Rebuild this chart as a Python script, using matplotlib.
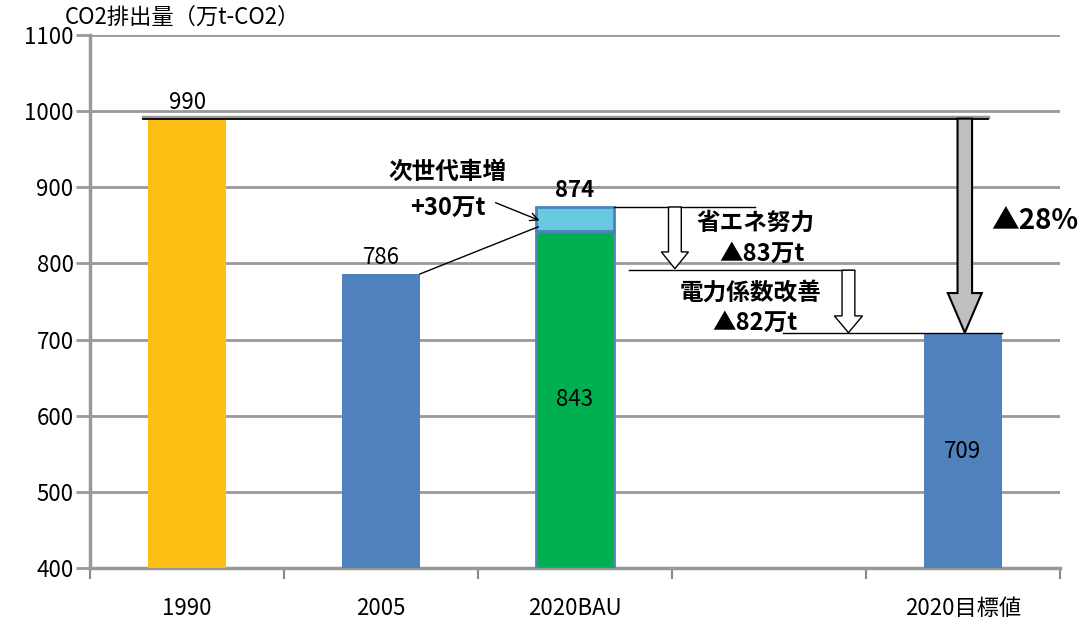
import matplotlib.pyplot as plt
from matplotlib.patches import FancyArrow

plt.rcParams['font.family'] = ['Noto Sans CJK JP', 'DejaVu Sans']

categories = ['1990', '2005', '2020BAU', '', '2020目標値']
base_values = [990, 786, 843, None, 709]
bau_increase = 31          # 843 -> 874
bau_total = 874
saving_effort = 83         # 省エネ努力
power_factor = 82          # 電力係数改善
bar_colors = ['#FDBF14', '#4F81BD', '#00B050', None, '#4F81BD']

fig = plt.figure(figsize=(10.87, 6.28), dpi=100)
ax = fig.add_axes([0.083, 0.0955, 0.892, 0.849])

x = list(range(len(categories)))
w = 0.4
for i, (v, c) in enumerate(zip(base_values, bar_colors)):
    if v is None:
        continue
    if i == 2:
        ax.bar(i, v - 400, w, bottom=400, color=c, edgecolor='#4F81BD', linewidth=2, zorder=3)
        ax.bar(i, bau_increase, w, bottom=v, color='#66C9DD', edgecolor='#4F81BD', linewidth=2, zorder=3)
    else:
        ax.bar(i, v - 400, w, bottom=400, color=c, zorder=3)

ax.set_xlim(-0.5, 4.5)
ax.set_ylim(400, 1100)
ax.set_yticks(range(400, 1101, 100))
ax.yaxis.grid(True, color='#999999', linewidth=2)
ax.set_axisbelow(True)
ax.tick_params(axis='y', length=10, width=2, color='#999999', labelsize=16, pad=2)

ax.set_xticks(x)
ax.set_xticklabels(categories, fontsize=16)
ax.tick_params(axis='x', which='major', length=0, pad=21)
ax.set_xticks([i - 0.5 for i in range(len(categories) + 1)], minor=True)
ax.tick_params(axis='x', which='minor', length=8, width=1.5, color='#888888', direction='out')

for s in ['top', 'right']:
    ax.spines[s].set_visible(False)
for s in ['left', 'bottom']:
    ax.spines[s].set_color('#999999')
    ax.spines[s].set_linewidth(2.5)

ax.text(-0.026, 1.032, 'CO2排出量（万t-CO2）', transform=ax.transAxes, fontsize=16,
        ha='left', va='center')

# value labels
ax.text(0, base_values[0] + 6, '990', ha='center', va='bottom', fontsize=16)
ax.text(1, base_values[1] + 6, '786', ha='center', va='bottom', fontsize=16)
ax.text(2, bau_total + 6, '874', ha='center', va='bottom', fontsize=16, fontweight='bold')
ax.text(2, 621, '843', ha='center', va='center', fontsize=16)
ax.text(4, 553, '709', ha='center', va='center', fontsize=16)

# reference lines
ax.plot([-0.23, 4.13], [base_values[0] + 1.5, base_values[0] + 1.5], color='#999999', lw=2.5, zorder=4)
ax.plot([-0.23, 4.13], [base_values[0], base_values[0]], color='black', lw=1.3, zorder=5)
ax.plot([2.2, 2.93], [bau_total, bau_total], color='black', lw=1, zorder=4)
mid = bau_total - saving_effort
ax.plot([2.28, 3.44], [mid, mid], color='black', lw=1, zorder=4)
ax.plot([3.07, 4.2], [base_values[4], base_values[4]], color='black', lw=1, zorder=4)

# hollow arrows
ax.add_patch(FancyArrow(2.515, bau_total, 0, -(saving_effort - 2), width=0.066, head_width=0.14,
                        head_length=22, length_includes_head=True, fc='white', ec='black', lw=1, zorder=6))
ax.add_patch(FancyArrow(3.41, mid, 0, -(mid - base_values[4]), width=0.066, head_width=0.145,
                        head_length=22, length_includes_head=True, fc='white', ec='black', lw=1, zorder=6))
ax.add_patch(FancyArrow(4.01, base_values[0], 0, -(base_values[0] - base_values[4]), width=0.075,
                        head_width=0.175, head_length=52, length_includes_head=True,
                        fc='#BFBFBF', ec='black', lw=1.5, zorder=6))

# connector line and arrow for 次世代車増
ax.plot([1.2, 1.81], [base_values[1], 848], color='black', lw=1, zorder=5)
ax.annotate('', xy=(1.83, 855), xytext=(1.577, 881),
            arrowprops=dict(arrowstyle='->', color='black', lw=1, mutation_scale=14), zorder=5)

bold = dict(fontsize=17, fontweight='bold', ha='center', va='center')
ax.text(1.34, 920, '次世代車増', **bold)
ax.text(1.345, 872, '+30万t', **bold)
ax.text(2.93, 853, '省エネ努力', **bold)
ax.text(2.965, 812, '▲83万t', **bold)
ax.text(2.905, 761, '電力係数改善', **bold)
ax.text(2.93, 722, '▲82万t', **bold)
ax.text(4.37, 856, '▲28%', fontsize=20, fontweight='bold', ha='center', va='center')

fig.savefig('out.png', dpi=100)
